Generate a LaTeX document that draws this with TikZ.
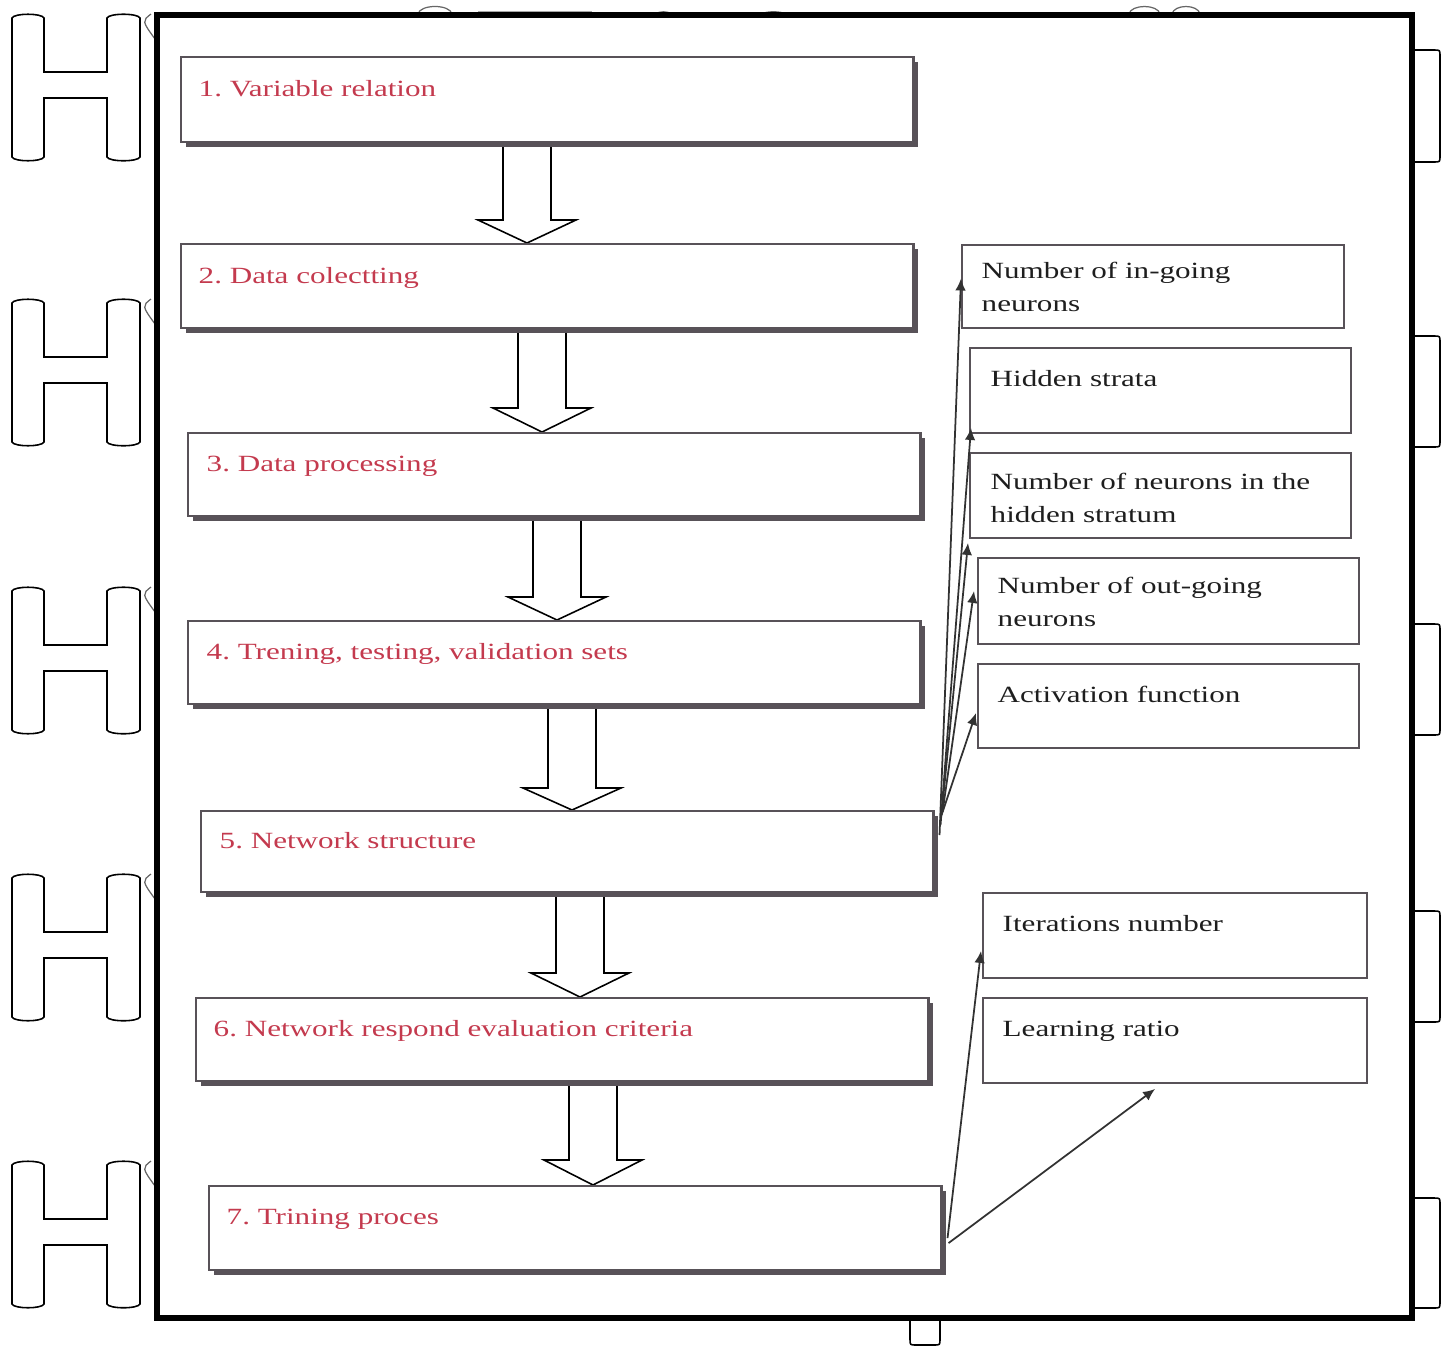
\documentclass[tikz,border=0pt]{standalone}
\usepackage{fontspec}
\setmainfont{Liberation Serif}
\newfontfamily\boxfont[FakeStretch=1.34]{Liberation Serif}
\usetikzlibrary{calc,arrows.meta,shadows}
\pgfdeclarelayer{background}
\pgfsetlayers{background,main}
\definecolor{redtext}{RGB}{196,58,78}
\definecolor{shadowgray}{RGB}{88,82,88}
\definecolor{linegray}{RGB}{50,50,50}
\definecolor{textblack}{RGB}{30,30,30}
\frenchspacing
\begin{document}
\begin{tikzpicture}[x=0.01cm,y=-0.01cm,
  mainbox/.style={draw=shadowgray, line width=0.6pt, fill=white, anchor=north west, inner sep=0pt,
    minimum width=7.32cm,
    drop shadow={shadow xshift=1.4pt, shadow yshift=-1.5pt, fill=shadowgray, opacity=1}},
  sidebox/.style={draw=shadowgray, line width=0.55pt, fill=white, anchor=north west, inner sep=0pt},
  maintext/.style={anchor=base west, inner sep=0pt, text=redtext, font=\boxfont\fontsize{6.6pt}{9.4pt}\selectfont},
  sidetext/.style={anchor=base west, inner sep=0pt, text=textblack, font=\boxfont\fontsize{6.6pt}{9.4pt}\selectfont},
  blockarrow/.style={draw=black, line width=0.45pt, fill=white, line join=miter},
  conn/.style={draw=linegray, line width=0.5pt, -{Latex[length=3.4pt,width=3pt]}},
  hline/.style={draw=black, line width=0.45pt},
  faint/.style={draw=black!60, line width=0.35pt},
  frameline/.style={draw=black, line width=1.45pt}]
\useasboundingbox (0,0) rectangle (1451,1348);

% decorations on the left
\foreach \y in {13,298,586,873,1160} {
  \draw[hline] (12,\y+5) .. controls (14,\y) and (42,\y) .. (44,\y+5) -- (44,\y+59) -- (107,\y+59) -- (107,\y+5)
    .. controls (109,\y) and (138,\y) .. (140,\y+5) -- (140,\y+144)
    .. controls (138,\y+149) and (109,\y+149) .. (107,\y+144) -- (107,\y+85) -- (44,\y+85) -- (44,\y+144)
    .. controls (42,\y+149) and (14,\y+149) .. (12,\y+144) -- cycle;
  \draw[faint] (151,\y+1) .. controls (142,\y+8) .. (155,\y+26);
}
% brackets on the right
\foreach \a/\b in {50/162,336/447,624/735,911/1022,1198/1308} {
  \draw[hline] (1415,\a) -- (1434,\a) .. controls (1440,\a) .. (1440,\a+6) -- (1440,\b-6)
    .. controls (1440,\b) .. (1434,\b) -- (1415,\b);
}
% small marks on the top and bottom
\draw[faint] (418,14) .. controls (420,4) and (450,4) .. (452,14);
\draw[faint] (1129,14) .. controls (1131,4) and (1158,4) .. (1160,14);
\draw[faint] (1172,14) .. controls (1174,4) and (1198,4) .. (1200,14);
\draw[draw=black!35, line width=0.3pt] (478,12) -- (592,12);
\draw[faint] (656,14) .. controls (659,11) and (668,11) .. (671,14);
\draw[faint] (762,14) .. controls (766,11) and (781,11) .. (785,14);
\draw[hline] (910,1320) -- (910,1339) .. controls (910,1345) .. (916,1345) -- (934,1345)
  .. controls (940,1345) .. (940,1339) -- (940,1320);

% frame
\draw[frameline] (157,15) rectangle (1412,1318);

% main boxes
\node[mainbox, minimum height=0.85cm] (b1) at (180,56) {};
\node[mainbox, minimum height=0.84cm] (b2) at (180,243) {};
\node[mainbox, minimum height=0.83cm] (b3) at (187,432) {};
\node[mainbox, minimum height=0.83cm] (b4) at (187,620) {};
\node[mainbox, minimum height=0.81cm] (b5) at (200,810) {};
\node[mainbox, minimum height=0.83cm] (b6) at (195,997) {};
\node[mainbox, minimum height=0.84cm] (b7) at (208,1185) {};

% block arrows between main boxes
\begin{pgfonlayer}{background}
\draw[blockarrow] (503,0 |- b1.south) -- (503,220) -- (478,220) -- (527,0 |- b2.north) -- (576,220) -- (551,220) -- (551,0 |- b1.south);
\draw[blockarrow] (518,0 |- b2.south) -- (518,408) -- (493,408) -- (542,0 |- b3.north) -- (591,408) -- (566,408) -- (566,0 |- b2.south);
\draw[blockarrow] (533,0 |- b3.south) -- (533,597) -- (508,597) -- (557,0 |- b4.north) -- (606,597) -- (581,597) -- (581,0 |- b3.south);
\draw[blockarrow] (548,0 |- b4.south) -- (548,788) -- (523,788) -- (572,0 |- b5.north) -- (621,788) -- (596,788) -- (596,0 |- b4.south);
\draw[blockarrow] (556,0 |- b5.south) -- (556,973) -- (531,973) -- (580,0 |- b6.north) -- (629,973) -- (604,973) -- (604,0 |- b5.south);
\draw[blockarrow] (569,0 |- b6.south) -- (569,1160) -- (544,1160) -- (593,0 |- b7.north) -- (642,1160) -- (617,1160) -- (617,0 |- b6.south);
\end{pgfonlayer}

% side boxes
\node[sidebox, minimum width=3.82cm, minimum height=0.83cm] (r1) at (961,244) {};
\node[sidebox, minimum width=3.81cm, minimum height=0.85cm] (r2) at (969,347) {};
\node[sidebox, minimum width=3.81cm, minimum height=0.85cm] (r3) at (969,452) {};
\node[sidebox, minimum width=3.81cm, minimum height=0.86cm] (r4) at (977,557) {};
\node[sidebox, minimum width=3.81cm, minimum height=0.84cm] (r5) at (977,663) {};
\node[sidebox, minimum width=3.84cm, minimum height=0.85cm] (r6) at (982,892) {};
\node[sidebox, minimum width=3.84cm, minimum height=0.85cm] (r7) at (982,997) {};

% connector start points
\coordinate (s1) at ($(b5.north east)+(5,25)$);
\coordinate (s2) at ($(b5.north east)+(6,15)$);
\coordinate (s3) at ($(b5.north east)+(7,5)$);
\coordinate (s4) at ($(b5.north east)+(8,2)$);
\coordinate (s5) at ($(b5.north east)+(6,8)$);
\coordinate (s6) at ($(b7.east)+(5,10)$);
\coordinate (s7) at ($(b7.east)+(6,15)$);

\draw[conn] (s1) -- ($(r1.west)+(0,-8)$);
\draw[conn] (s2) -- ($(r2.south west)+(2,-6)$);
\draw[conn] (s3) -- ($(r3.south west)+(-1,4)$);
\draw[conn] (s4) -- ($(r4.west)+(-3,-10)$);
\draw[conn] (s5) -- ($(r5.west)+(-1,7)$);
\draw[conn] (s6) -- ($(r6.south west)+(-1,-28)$);
\draw[conn] (s7) -- ($(r7.south)+(-20,5)$);

% texts
\node[maintext] (t1) at ($(b1.north west)+(18,40)$) {1. Variable relation};
\node[maintext] (t2) at ($(b2.north west)+(18,40)$) {2. Data colectting};
\node[maintext] (t3) at ($(b3.north west)+(19,39)$) {3. Data processing};
\node[maintext] (t4) at ($(b4.north west)+(19,39)$) {4. Trening, testing, validation sets};
\node[maintext] (t5) at ($(b5.north west)+(19,38)$) {5. Network structure};
\node[maintext] (t6) at ($(b6.north west)+(18,39)$) {6. Network respond evaluation criteria};
\node[maintext] (t7) at ($(b7.north west)+(18,39)$) {7. Trining proces};

\node[sidetext] (u1a) at ($(r1.north west)+(20,34)$) {Number of in-going};
\node[sidetext] (u1b) at ($(u1a.base west)+(0,33)$) {neurons};
\node[sidetext] (u2) at ($(r2.north west)+(21,39)$) {Hidden strata};
\node[sidetext] (u3a) at ($(r3.north west)+(21,37)$) {Number of neurons in the};
\node[sidetext] (u3b) at ($(u3a.base west)+(0,33)$) {hidden stratum};
\node[sidetext] (u4a) at ($(r4.north west)+(20,36)$) {Number of out-going};
\node[sidetext] (u4b) at ($(u4a.base west)+(0,33)$) {neurons};
\node[sidetext] (u5) at ($(r5.north west)+(20,39)$) {Activation function};
\node[sidetext] (u6) at ($(r6.north west)+(20,39)$) {Iterations number};
\node[sidetext] (u7) at ($(r7.north west)+(20,39)$) {Learning ratio};
\end{tikzpicture}
\end{document}
